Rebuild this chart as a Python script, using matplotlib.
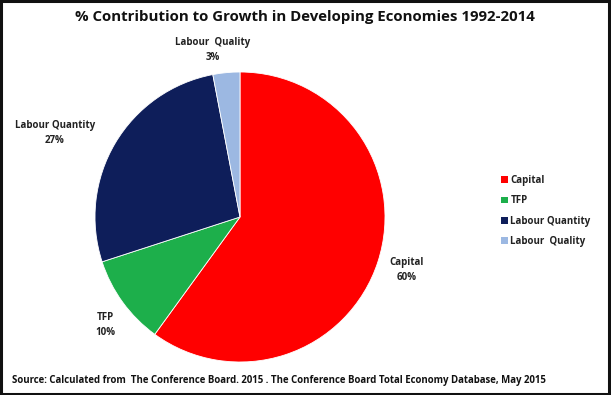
import matplotlib
matplotlib.use("Agg")
import matplotlib.pyplot as plt
from matplotlib.patches import Rectangle, Patch

categories = ["Capital", "TFP", "Labour Quantity", "Labour  Quality"]
values = [60, 10, 27, 3]
colors = ["#FF0000", "#1DAF4B", "#0E1E5A", "#9CB8E2"]
pct_labels = ["60%", "10%", "27%", "3%"]

W, H = 611, 395
fig = plt.figure(figsize=(W / 100, H / 100), dpi=100)
fig.patch.set_facecolor("white")
plt.rcParams['font.family'] = ['Open Sans', 'DejaVu Sans']

cx, cy, r = 240, 217, 145
ax = fig.add_axes([(cx - r) / W, (H - cy - r) / H, 2 * r / W, 2 * r / H])
wedges, _ = ax.pie(values, colors=colors, startangle=90, counterclock=False,
                   wedgeprops=dict(edgecolor="white", linewidth=0.6))
ax.set_xlim(-1, 1)
ax.set_ylim(-1, 1)
ax.set_aspect("equal")
ax.axis("off")

# data labels (figure pixel coords)
label_pos = [(407, 270), (105, 325), (55, 133), (213, 50)]
for (x, y), cat, p in zip(label_pos, categories, pct_labels):
    fig.text(x / W, 1 - y / H, f"{cat}\n{p}", ha="center", va="center",
             fontsize=7, fontweight="bold", color="#222222", linespacing=1.4)

fig.text(305 / W, 1 - 17 / H, "% Contribution to Growth in Developing Economies 1992-2014",
         ha="center", va="center", fontsize=10.8, fontweight="bold", color="#111111")

fig.text(12 / W, 1 - 381 / H,
         "Source: Calculated from  The Conference Board. 2015 . The Conference Board Total Economy Database, May 2015",
         ha="left", va="center", fontsize=6.95, fontweight="bold", color="#111111")

handles = [Patch(facecolor=c, edgecolor="none") for c in colors]
leg = fig.legend(handles, categories, loc="center left",
                 bbox_to_anchor=(492 / W, 1 - 211 / H), frameon=False,
                 prop=dict(size=7, weight="bold"), handlelength=0.7, handleheight=0.7,
                 handletextpad=0.3, labelspacing=0.95)
for t in leg.get_texts():
    t.set_color("#222222")

fig.add_artist(Rectangle((0.002, 0.003), 0.995, 0.994, transform=fig.transFigure,
                         fill=False, edgecolor="#111111", linewidth=2.2))

fig.savefig("out.png", dpi=100, facecolor="white")
